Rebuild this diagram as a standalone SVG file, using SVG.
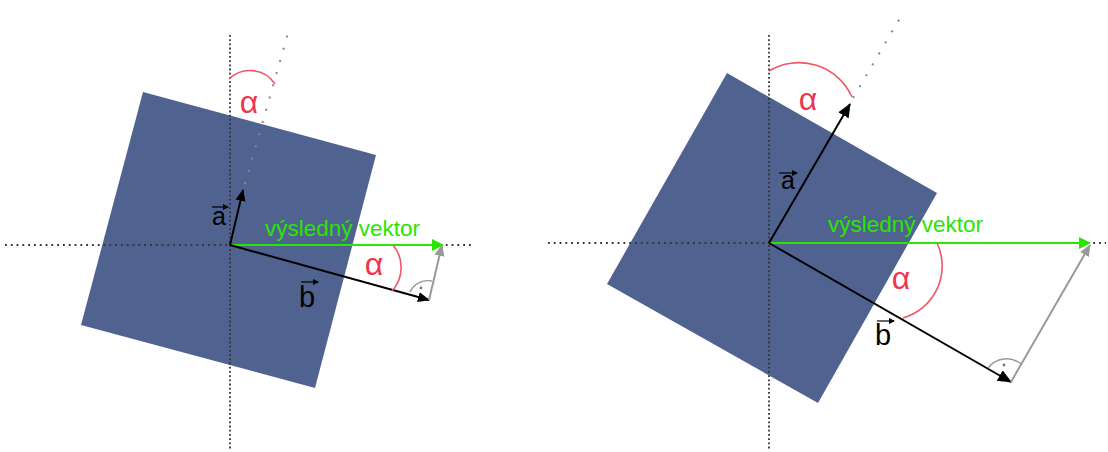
<svg xmlns="http://www.w3.org/2000/svg" width="1108" height="452" viewBox="0 0 1108 452">
<defs>
<marker id="ahBlack" markerUnits="userSpaceOnUse" markerWidth="14" markerHeight="12" refX="11" refY="5" orient="auto"><path d="M0,0 L12,5 L0,10 z" fill="#000"/></marker>
<marker id="ahBlackL" markerUnits="userSpaceOnUse" markerWidth="16" markerHeight="14" refX="13" refY="6" orient="auto"><path d="M0,0 L14,6 L0,12 z" fill="#000"/></marker>
<marker id="ahGreen" markerUnits="userSpaceOnUse" markerWidth="14" markerHeight="14" refX="11" refY="6" orient="auto"><path d="M0,0 L12,6 L0,12 z" fill="#2ae500"/></marker>
<marker id="ahGray" markerUnits="userSpaceOnUse" markerWidth="14" markerHeight="12" refX="11" refY="5" orient="auto"><path d="M0,0 L12,5 L0,10 z" fill="#999"/></marker>
<marker id="ahSmall" markerUnits="userSpaceOnUse" markerWidth="8" markerHeight="7" refX="5" refY="3" orient="auto"><path d="M0,0 L6,3 L0,6 z" fill="#000"/></marker>
</defs>
<style>
.sq{fill:#506390}
.dotv{stroke:#333;stroke-width:1.8;stroke-dasharray:1.8 2.4;fill:none}
.doth{stroke:#333;stroke-width:1.8;stroke-dasharray:1.8 4;fill:none}
.ext{stroke:#888;stroke-width:2;stroke-dasharray:2 10.7;fill:none}
.vec{stroke:#000;stroke-width:2;fill:none}
.res{stroke:#2ae500;stroke-width:2;fill:none}
.gv{stroke:#999;stroke-width:2;fill:none}
.arc{stroke:#f25468;stroke-width:1.6;fill:none}
.ra{stroke:#999;stroke-width:1.4;fill:none}
.alpha{fill:#ee3550;font-family:'Liberation Sans',Arial,sans-serif;font-size:32px;text-anchor:middle}
.lbl{fill:#000;font-family:'Liberation Sans',Arial,sans-serif;font-size:25px}
.lblb{fill:#000;font-family:'Liberation Sans',Arial,sans-serif;font-size:29px}
.grn{fill:#2ae500;font-family:'Liberation Sans',Arial,sans-serif;font-size:22.5px}
.sv{stroke:#000;stroke-width:1.2;fill:none}
</style>
<g id="left-panel">
<polygon class="sq" points="143,92 376,155 315,388 81,325"/>
</g>
<g id="right-panel">
<polygon class="sq" points="727,73 937,193 818,403 607,284"/>
</g>
<g id="connectors">
<line class="dotv" x1="230" y1="35" x2="230" y2="450"/>
<line class="doth" x1="5" y1="245" x2="472" y2="245"/>
<line class="ext" x1="245" y1="184" x2="288" y2="33"/>
<line class="dotv" x1="769" y1="35" x2="769" y2="450"/>
<line class="doth" x1="548" y1="243" x2="1106" y2="243"/>
<line class="ext" x1="853" y1="98" x2="903" y2="13"/>
<line class="res" x1="230" y1="245" x2="443" y2="245" marker-end="url(#ahGreen)"/>
<line class="vec" x1="230" y1="245" x2="243" y2="190" marker-end="url(#ahBlack)"/>
<line class="vec" x1="230" y1="245" x2="429" y2="300" marker-end="url(#ahBlack)"/>
<line class="gv" x1="429" y1="300" x2="442" y2="245" marker-end="url(#ahGray)"/>
<line class="res" x1="769" y1="243" x2="1090" y2="243" marker-end="url(#ahGreen)"/>
<line class="vec" x1="769" y1="243" x2="850" y2="104" marker-end="url(#ahBlackL)"/>
<line class="vec" x1="769" y1="243" x2="1011" y2="382" marker-end="url(#ahBlackL)"/>
<line class="gv" x1="1011" y1="382" x2="1090" y2="245" marker-end="url(#ahGray)"/>
</g>
<g id="angles">
<path class="arc" d="M229,79 A30,30 0 0 1 275,84"/>
<path class="arc" d="M393,245 A35,35 0 0 1 392,291"/>
<path class="arc" d="M769,71 A58,58 0 0 1 852,97"/>
<path class="arc" d="M937,243 A54,54 0 0 1 903,318"/>
<path class="ra" d="M410,292 A20,20 0 0 1 432,281"/>
<circle cx="421" cy="288" r="1.4" fill="#777"/>
<path class="ra" d="M988,368 A23,23 0 0 1 1021,364"/>
<circle cx="1004" cy="365" r="1.4" fill="#777"/>
</g>
<g id="labels">
<text class="alpha" x="249" y="113">α</text>
<text class="alpha" x="374" y="275">α</text>
<text class="alpha" x="808" y="110">α</text>
<text class="alpha" x="901" y="289">α</text>
<text class="grn" x="265" y="236">výsledný vektor</text>
<text class="grn" x="828" y="232">výsledný vektor</text>
<text class="lbl" x="212" y="225">a</text>
<line class="sv" x1="212" y1="207" x2="228" y2="207" marker-end="url(#ahSmall)"/>
<text class="lblb" x="299" y="307">b</text>
<line class="sv" x1="301" y1="282" x2="318" y2="282" marker-end="url(#ahSmall)"/>
<text class="lbl" x="781" y="189">a</text>
<line class="sv" x1="779" y1="173" x2="797" y2="173" marker-end="url(#ahSmall)"/>
<text class="lblb" x="875" y="345">b</text>
<line class="sv" x1="877" y1="321" x2="894" y2="321" marker-end="url(#ahSmall)"/>
</g>
</svg>
